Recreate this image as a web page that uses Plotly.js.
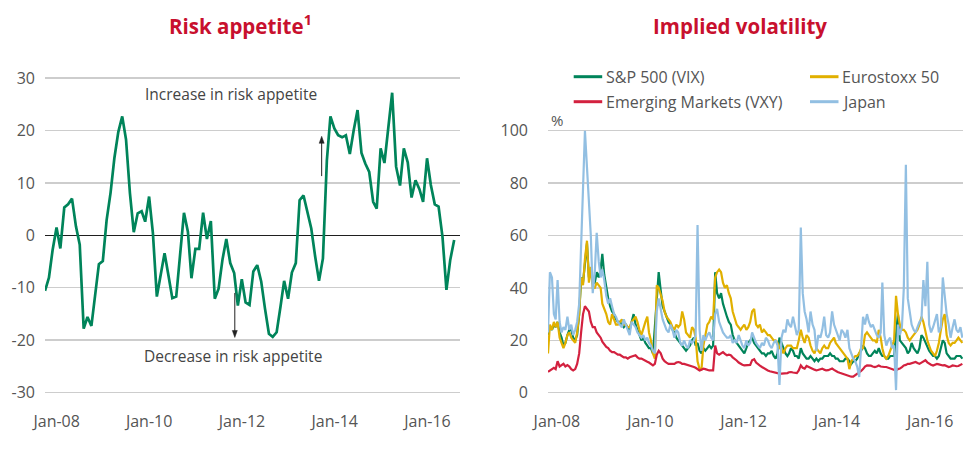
<!DOCTYPE html>
<html>
<head>
<meta charset="utf-8">
<script src="https://cdn.plot.ly/plotly-3.0.1.min.js"></script>
<style>html,body{margin:0;padding:0;background:#fff;}#chart{width:966px;height:454px;}</style>
</head>
<body>
<div id="chart"></div>
<script>
// ---------- Left panel: risk appetite (monthly, Jan 2008 – Nov 2016) ----------
const riskStart = [2008, 1];
const riskAppetite = [
  -10.6, -8.1, -2.8, 1.5, -2.5, 5.3, 5.9, 7.0, 1.7, -1.8,
  -17.8, -15.6, -17.3, -11.5, -5.5, -4.9, 2.9, 8.1, 14.7, 19.7,
  22.7, 18.3, 8.0, 0.6, 4.2, 4.6, 2.6, 7.4, 0.4, -11.7,
  -7.5, -3.4, -7.7, -12.0, -11.7, -3.5, 4.3, 0.7, -8.2, -2.6,
  -2.6, 4.3, -0.7, 2.7, -12.1, -10.2, -4.6, -0.7, -5.3, -7.2,
  -13.4, -8.4, -12.8, -13.3, -6.9, -5.7, -8.8, -14.0, -18.8, -19.4,
  -18.5, -13.5, -8.7, -12.1, -7.1, -5.3, 6.7, 7.6, 4.5, 1.3,
  -4.1, -8.7, -4.4, 14.3, 22.7, 20.4, 19.1, 18.7, 19.1, 15.5,
  20.1, 23.9, 15.7, 13.7, 12.1, 6.4, 5.1, 16.6, 13.8, 20.7,
  27.2, 13.1, 9.5, 16.6, 13.9, 7.2, 10.5, 8.8, 6.4, 14.7,
  9.6, 5.9, 5.5, -0.3, -10.4, -4.7, -0.9
];
const riskTickVals = ['2008-04-02', '2010-04-01', '2012-04-03', '2014-04-04', '2016-04-05'];
const riskTickText = ['Jan-08', 'Jan-10', 'Jan-12', 'Jan-14', 'Jan-16'];

// ---------- Right panel: implied volatility (semi-monthly, Jan 2008 – Nov 2016) ----------
const volStartYear = 2008;
const sp500VIX = [
  22,25,24,26,25,27,23,21,18,19,22,24,24,21,20,22,30,44,42,50,57,44,47,42,
  42,46,44,47,53,45,40,36,33,31,30,28,27,27,26,25,26,25,24,27,30,26,24,22,
  20,21,19,18,17,17,15,25,38,46,39,33,31,29,27,26,24,23,21,20,19,18,17,16,
  17,18,20,21,18,19,16,15,17,16,17,18,17,18,46,38,36,38,34,31,29,27,26,22,
  20,19,18,17,16,15,17,19,20,21,19,18,17,16,15,15,14,15,15,16,14,13,15,21,
  19,17,15,14,15,17,16,14,14,13,17,15,14,13,13,14,13,12,13,12,13,13,14,14,
  14,15,14,14,13,13,12,12,12,13,13,12,11,12,12,13,15,16,18,17,15,14,14,15,
  16,15,17,15,14,14,13,13,14,14,14,22,30,20,19,18,17,15,16,19,17,16,15,17,
  22,21,19,17,16,15,14,14,13,14,17,20,19,15,14,13,13,13,14,14,14,13
];
const eurostoxx50 = [
  15,26,24,27,25,27,21,19,17,19,22,23,21,20,19,23,30,44,41,51,58,42,48,40,
  40,42,41,40,34,32,30,27,26,30,28,26,26,27,28,26,26,25,25,27,28,29,27,24,
  22,25,27,29,23,20,15,13,41,40,37,35,31,29,28,27,25,24,26,25,26,31,28,23,
  22,21,25,24,21,12,9,9,18,22,26,27,29,28,44,46,47,46,42,40,41,38,36,31,
  28,26,25,24,25,26,24,25,27,31,32,26,25,26,23,24,23,22,22,21,20,20,19,17,
  17,15,17,18,18,18,17,17,17,20,24,21,19,22,21,18,16,15,17,16,15,17,18,17,
  17,19,20,21,19,18,17,16,15,14,13,9,12,13,14,14,15,17,17,22,23,22,21,20,
  20,19,24,21,17,14,13,14,16,18,20,37,30,26,24,24,23,21,20,21,22,23,24,26,
  29,27,23,20,18,16,15,14,16,19,24,28,30,22,19,18,19,19,20,21,20,19
];
const emergingVXY = [
  8,8.5,9,9.5,9,12,10,10.5,11,10,10.5,10,9,8.5,9,11,15,23,30,33,32,31,27,25,
  25,23,22,21,19.5,18.5,17.5,17,16,15.5,15.5,15,14.5,14.5,14,13.5,13.5,13,13.5,13.8,14,14.3,13.5,13,
  13,12.5,12,11.8,11.5,11,10.4,11,14.5,16,15,13,12,11.5,11,11,11,11,11.5,11.7,11.5,11,11,10.8,
  10.5,10.4,10,9.8,9.5,9,8.5,8.8,9.2,9,8.7,8.5,8.5,8.5,18,15,14.5,15,15.5,14.8,14.3,14.5,14.3,13.5,
  13,12.3,11.5,11,10.7,10.4,10.4,10.4,10.6,12.4,12.8,11.5,10.8,10.3,9.8,9.3,8.8,8.5,8.2,8,7.9,7.6,7.4,7.3,
  7.3,7.4,7.3,7.5,7.8,7.9,7.7,7.6,7.5,8.5,10.4,9.5,9.2,10.2,9.8,9.3,9.2,8.8,8.5,8.7,9,9.2,8.8,8.5,
  8.6,9,9.2,8.7,8.2,7.9,7.6,7.3,7.2,6.9,6.6,6.4,6.1,6.1,6.6,7.3,7.8,8.3,9,10,10.4,10.4,10.3,10,
  9.8,10,10.4,10,9.8,9.8,9.8,9.6,9.4,9.2,8.8,8.5,9,9.2,9.8,10.4,10.6,11,11,11.3,11.6,11.7,11.3,11,
  11.5,12,12.4,11.6,11,10.7,10.4,10.7,11,10.8,10.5,10.4,10.5,10.2,9.8,10,10.4,10.3,10.1,10.2,10.6,11
];
const japan = [
  23,46,44,30,28,43,27,23,25,24,29,24,26,22,24,27,34,58,84,100,86,74,60,38,
  46,61,50,44,47,43,37,34,36,33,30,29,27,26,25,28,26,24,22,27,26,25,23,22,
  21,22,20,21,19,18,16,15,31,36,31,28,26,24,23,26,24,21,24,23,19,18,20,18,
  17,20,19,20,22,64,24,16,22,20,22,23,21,20,30,32,27,25,23,22,21,21,22,19,
  20,19,22,20,18,17,20,18,19,23,21,19,18,17,19,18,21,20,18,17,19,20,18,3,
  21,24,23,28,26,25,29,26,22,24,63,38,31,28,23,31,26,24,16,22,21,24,29,22,
  21,23,31,26,24,22,20,24,23,21,24,17,15,13,12,10,6,16,29,26,30,27,25,26,
  24,22,21,23,42,22,18,20,21,17,18,1,26,22,25,40,87,36,31,26,24,23,25,27,
  28,43,33,50,26,23,25,28,30,23,25,44,38,30,26,21,25,28,24,23,25,21
];
const volTickVals = ['2008-03-10', '2010-03-12', '2012-03-10', '2014-03-10', '2016-03-10'];
const volTickText = ['Jan-08', 'Jan-10', 'Jan-12', 'Jan-14', 'Jan-16'];

// ---------- date categories ----------
function pad(n) { return (n < 10 ? '0' : '') + n; }
function monthlyDates(y, m, n) {
  const out = [];
  for (let i = 0; i < n; i++) {
    const mm = (m - 1 + i) % 12 + 1, yy = y + Math.floor((m - 1 + i) / 12);
    out.push(yy + '-' + pad(mm) + '-01');
  }
  return out;
}
function semiMonthlyDates(y, n) {
  const out = [];
  for (let k = 0; k < n; k++) {
    const yy = y + Math.floor(k / 24), mm = Math.floor((k % 24) / 2) + 1;
    out.push(yy + '-' + pad(mm) + (k % 2 === 0 ? '-01' : '-16'));
  }
  return out;
}
const riskDates = monthlyDates(riskStart[0], riskStart[1], riskAppetite.length);
const volDates = semiMonthlyDates(volStartYear, japan.length);

const C = { green: '#00845a', yellow: '#e1b000', red: '#d3213f', blue: '#92bfe2', title: '#c8102e', text: '#555555', grid: '#cdcdcd' };
const W = 966, H = 454;
const px = v => v / W, py = v => 1 - v / H;

const traces = [
  { x: riskDates, y: riskAppetite, xaxis: 'x', yaxis: 'y', type: 'scatter', mode: 'lines', name: 'Risk appetite',
    line: { color: C.green, width: 2.7 } },
  { x: volDates, y: sp500VIX, xaxis: 'x2', yaxis: 'y2', type: 'scatter', mode: 'lines', name: 'S&P 500 (VIX)',
    line: { color: C.green, width: 2.2 } },
  { x: volDates, y: eurostoxx50, xaxis: 'x2', yaxis: 'y2', type: 'scatter', mode: 'lines', name: 'Eurostoxx 50',
    line: { color: C.yellow, width: 2.2 } },
  { x: volDates, y: emergingVXY, xaxis: 'x2', yaxis: 'y2', type: 'scatter', mode: 'lines', name: 'Emerging Markets (VXY)',
    line: { color: C.red, width: 2.2 } },
  { x: volDates, y: japan, xaxis: 'x2', yaxis: 'y2', type: 'scatter', mode: 'lines', name: 'Japan',
    line: { color: C.blue, width: 2.2 } }
];

const legendItems = [
  { name: 'S&P 500 (VIX)', color: C.green, x: 573.7, y: 76.7 },
  { name: 'Eurostoxx 50', color: C.yellow, x: 810, y: 76.7 },
  { name: 'Emerging Markets (VXY)', color: C.red, x: 573.7, y: 101.7 },
  { name: 'Japan', color: C.blue, x: 810, y: 101.7 }
];

// guide arrows on the left panel (tail value -> head value)
const arrowUp = { date: '2013-12-22', from: 11.3, to: 18.9 };
const arrowDown = { date: '2012-02-06', from: -11.0, to: -19.5 };

const shapes = legendItems.map(it => ({
  type: 'line', xref: 'paper', yref: 'paper', x0: px(it.x), x1: px(it.x + 28.5), y0: py(it.y), y1: py(it.y),
  line: { color: it.color, width: 3 }
})).concat([
  { type: 'line', xref: 'x', yref: 'y', x0: arrowUp.date, x1: arrowUp.date, y0: arrowUp.from, y1: arrowUp.to - 1,
    line: { color: '#222', width: 1 } },
  { type: 'path', xref: 'x', yref: 'y', xsizemode: 'pixel', ysizemode: 'pixel', xanchor: arrowUp.date, yanchor: arrowUp.to,
    path: 'M-2.5,-7 L0,0 L2.5,-7 Z', fillcolor: '#222', line: { color: '#222', width: 0.5 } },
  { type: 'line', xref: 'x', yref: 'y', x0: arrowDown.date, x1: arrowDown.date, y0: arrowDown.from, y1: arrowDown.to + 1,
    line: { color: '#222', width: 1 } },
  { type: 'path', xref: 'x', yref: 'y', xsizemode: 'pixel', ysizemode: 'pixel', xanchor: arrowDown.date, yanchor: arrowDown.to,
    path: 'M-2.5,7 L0,0 L2.5,7 Z', fillcolor: '#222', line: { color: '#222', width: 0.5 } }
]);

const annotations = [
  { text: '<b>Risk appetite<sup>1</sup></b>', xref: 'paper', yref: 'paper', x: px(240), y: py(25), xanchor: 'center', yanchor: 'middle',
    showarrow: false, font: { size: 20.5, color: C.title } },
  { text: '<b>Implied volatility</b>', xref: 'paper', yref: 'paper', x: px(740), y: py(26), xanchor: 'center', yanchor: 'middle',
    showarrow: false, font: { size: 20.5, color: C.title } },
  { text: 'Increase in risk appetite', xref: 'paper', yref: 'paper', x: px(231), y: py(94), xanchor: 'center', yanchor: 'middle',
    showarrow: false, font: { size: 15.5, color: '#444' } },
  { text: 'Decrease in risk appetite', xref: 'paper', yref: 'paper', x: px(233), y: py(356), xanchor: 'center', yanchor: 'middle',
    showarrow: false, font: { size: 15.5, color: '#444' } },
  { text: '%', xref: 'paper', yref: 'paper', x: px(549), y: py(120), xanchor: 'left', yanchor: 'middle',
    showarrow: false, font: { size: 15, color: C.text } }
].concat(legendItems.map(it => ({
  text: it.name, xref: 'paper', yref: 'paper', x: px(it.x + 30), y: py(it.y), xanchor: 'left', yanchor: 'middle',
  showarrow: false, font: { size: 16, color: C.text }
})));

const tickFont = { size: 16, color: C.text };
const layout = {
  width: W, height: H,
  margin: { l: 0, r: 0, t: 0, b: 0 },
  paper_bgcolor: '#ffffff', plot_bgcolor: '#ffffff',
  showlegend: false,
  font: { family: 'Open Sans, sans-serif', size: 16, color: C.text },
  xaxis: { domain: [px(45), px(460)], anchor: 'y', type: 'date', range: ['2008-01-01', '2016-12-17'],
    tickmode: 'array', tickvals: riskTickVals, ticktext: riskTickText, showgrid: false, zeroline: false, showline: false,
    ticks: '', tickfont: tickFont, ticklabelstandoff: 12, fixedrange: true },
  yaxis: { domain: [py(397.74), py(72.86)], anchor: 'x', range: [-31, 31], tickmode: 'array',
    tickvals: [-30, -20, -10, 0, 10, 20, 30], ticktext: ['-30', '-20', '-10', '0', '10', '20', '30'],
    showgrid: true, gridcolor: C.grid, gridwidth: 1.3, zeroline: true, zerolinecolor: '#1f1f1f', zerolinewidth: 1,
    showline: false, ticks: '', tickfont: tickFont, ticklabelstandoff: 9, fixedrange: true },
  xaxis2: { domain: [px(548), px(963)], anchor: 'y2', type: 'date', range: ['2008-01-01', '2016-11-21'],
    tickmode: 'array', tickvals: volTickVals, ticktext: volTickText, showgrid: false, zeroline: false, showline: false,
    ticks: '', tickfont: tickFont, ticklabelstandoff: 12, fixedrange: true },
  yaxis2: { domain: [py(397.94), py(122.84)], anchor: 'x2', range: [-2, 103], tickmode: 'array',
    tickvals: [0, 20, 40, 60, 80, 100], ticktext: ['0', '20', '40', '60', '80', '100'],
    showgrid: true, gridcolor: C.grid, gridwidth: 1.3, zeroline: false, showline: false, ticks: '',
    tickfont: tickFont, ticklabelstandoff: 19, fixedrange: true },
  shapes: shapes,
  annotations: annotations
};

Plotly.newPlot('chart', traces, layout, { staticPlot: true, displayModeBar: false });
</script>
</body>
</html>
